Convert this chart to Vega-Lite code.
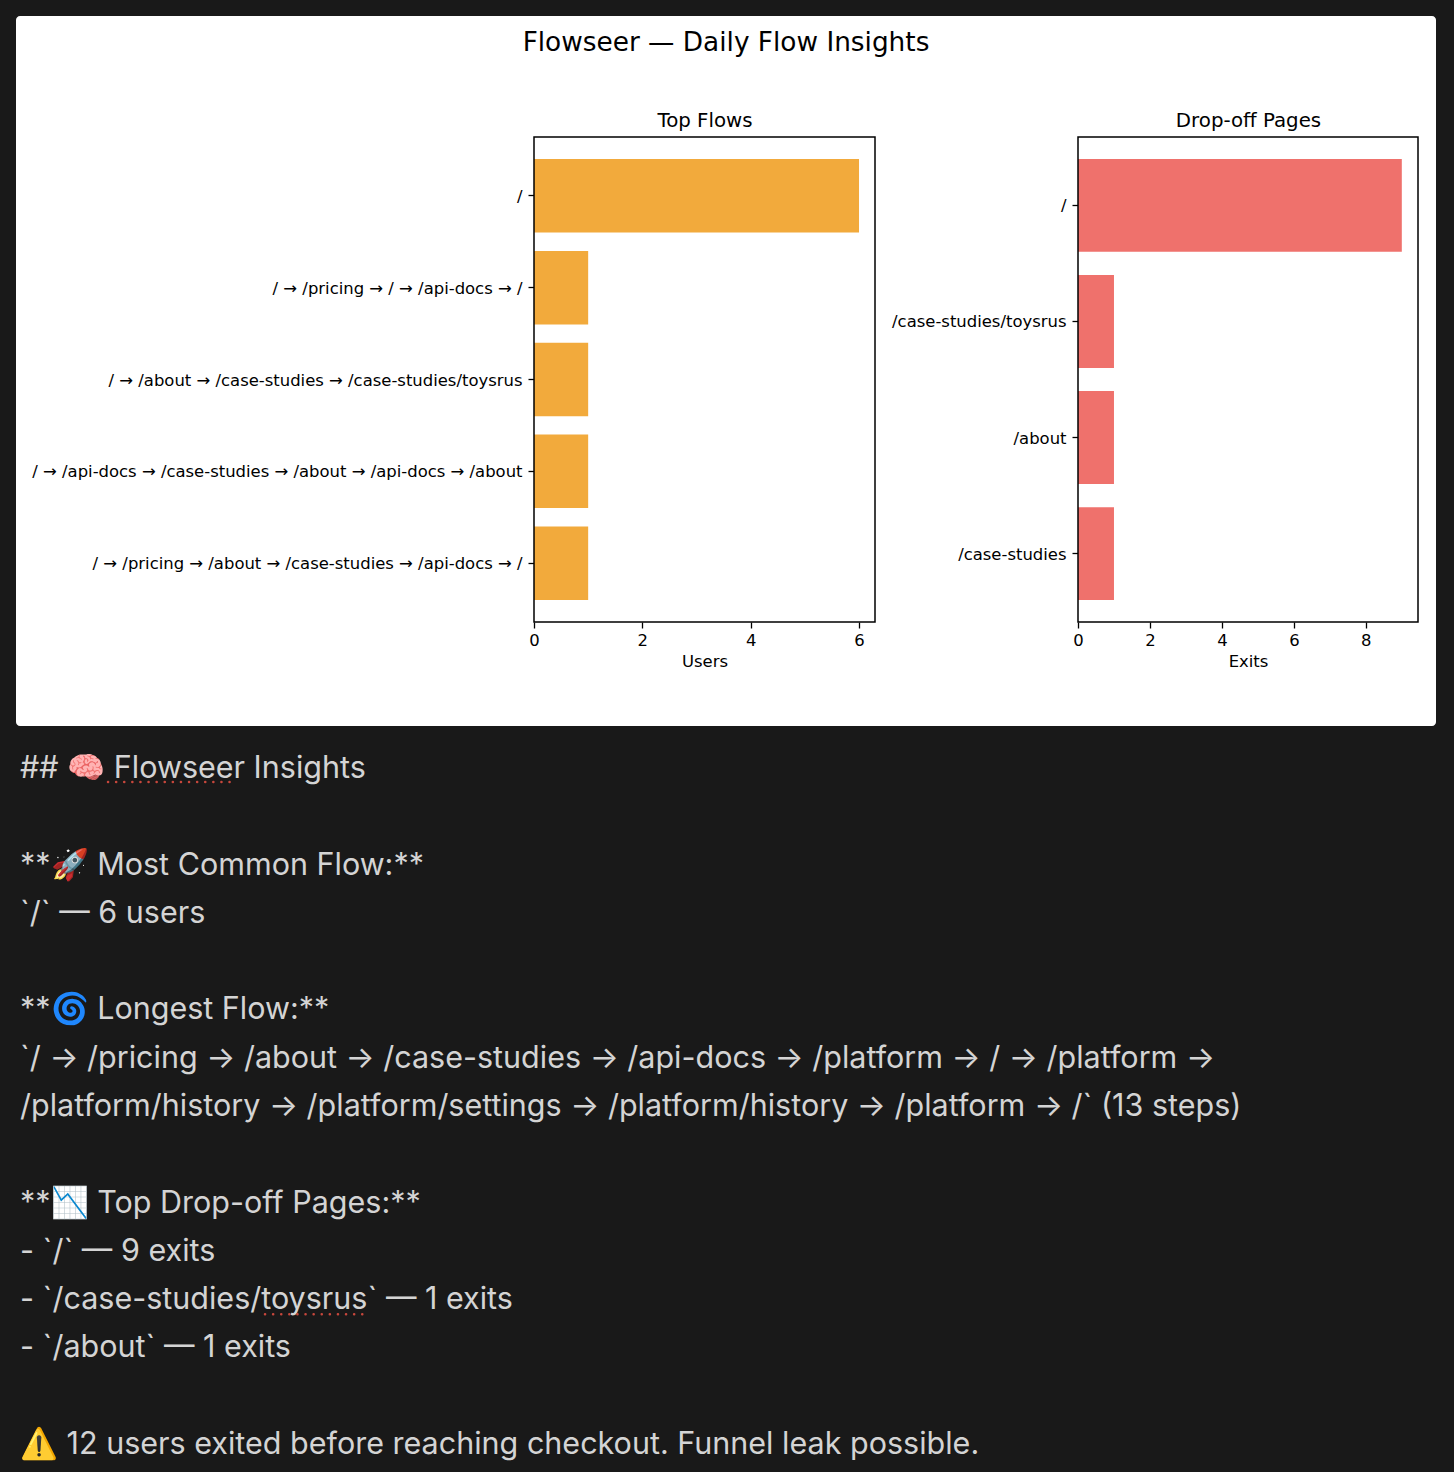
{
"$schema":"https://vega.github.io/schema/vega-lite/v6.json",
"background":"#191919",
"padding":{"left":16,"top":16,"right":18,"bottom":16},
"config":{"view":{"stroke":null},"axis":{"labelFont":"DejaVu Sans","titleFont":"DejaVu Sans","labelFontSize":16.45,"titleFontSize":16.45,"labelColor":"#000","titleColor":"#000","titleFontWeight":"normal","tickColor":"#000","domain":false,"grid":false,"tickSize":6,"tickWidth":1.3,"labelPadding":4,"labelLimit":700,"labelFlush":false,"labelOverlap":false,"titlePadding":5}},
"spacing":0,
"bounds":"flush",
"vconcat":[
{"width":1420,"height":710,"view":{"fill":"#ffffff","cornerRadius":4,"stroke":null},
 "resolve":{"scale":{"x":"independent","y":"independent"},"axis":{"x":"independent","y":"independent"}},
 "layer":[
 {"data":{"values":[{"t":"Flowseer — Daily Flow Insights"}]},
  "mark":{"type":"text","font":"DejaVu Sans","fontSize":26.35,"color":"#000","dy":-328},
  "encoding":{"text":{"field":"t"}}},
 {"data":{"values":[
   {"flow":"/","users":6},
   {"flow":"/ → /pricing → / → /api-docs → /","users":1},
   {"flow":"/ → /about → /case-studies → /case-studies/toysrus","users":1},
   {"flow":"/ → /api-docs → /case-studies → /about → /api-docs → /about","users":1},
   {"flow":"/ → /pricing → /about → /case-studies → /api-docs → /","users":1}]},
  "mark":{"type":"bar","color":"#f2aa3c"},
  "encoding":{
   "x":{"field":"users","type":"quantitative","title":"Users","scale":{"domain":[0,6.295],"nice":false,"range":[518,859]},"axis":{"orient":"bottom","offset":-104,"values":[0,2,4,6],"format":"d"}},
   "y":{"field":"flow","type":"nominal","sort":null,"title":null,"scale":{"paddingInner":0.2,"paddingOuter":0.24,"range":[121,606]},"axis":{"orient":"left","offset":-518,"labelPadding":6,"labelOffset":1}}}},
 {"data":{"values":[{"a":0,"b":6.295,"c":0,"d":1}]},
  "mark":{"type":"rect","fillOpacity":0,"stroke":"#000","strokeWidth":1.5},
  "encoding":{
   "x":{"field":"a","type":"quantitative","scale":{"domain":[0,6.295],"nice":false,"range":[518,859]},"axis":{"orient":"top","offset":-121,"title":"Top Flows","titleFontSize":19.8,"titlePadding":7,"ticks":false,"labels":false}},
   "x2":{"field":"b"},
   "y":{"field":"c","type":"quantitative","scale":{"domain":[0,1],"nice":false,"range":[606,121]},"axis":null},
   "y2":{"field":"d"}}},
 {"data":{"values":[
   {"page":"/","exits":9},
   {"page":"/case-studies/toysrus","exits":1},
   {"page":"/about","exits":1},
   {"page":"/case-studies","exits":1}]},
  "mark":{"type":"bar","color":"#ef716c"},
  "encoding":{
   "x":{"field":"exits","type":"quantitative","title":"Exits","scale":{"domain":[0,9.45],"nice":false,"range":[1062,1402]},"axis":{"orient":"bottom","offset":-104,"values":[0,2,4,6,8],"format":"d"}},
   "y":{"field":"page","type":"nominal","sort":null,"title":null,"scale":{"paddingInner":0.2,"paddingOuter":0.19,"range":[121,606]},"axis":{"orient":"left","offset":-1062,"labelPadding":6,"labelOffset":1}}}},
 {"data":{"values":[{"a":0,"b":9.45,"c":0,"d":1}]},
  "mark":{"type":"rect","fillOpacity":0,"stroke":"#000","strokeWidth":1.5},
  "encoding":{
   "x":{"field":"a","type":"quantitative","scale":{"domain":[0,9.45],"nice":false,"range":[1062,1402]},"axis":{"orient":"top","offset":-121,"title":"Drop-off Pages","titleFontSize":19.8,"titlePadding":7,"ticks":false,"labels":false}},
   "x2":{"field":"b"},
   "y":{"field":"c","type":"quantitative","scale":{"domain":[0,1],"nice":false,"range":[606,121]},"axis":null},
   "y2":{"field":"d"}}}
 ]},
{"width":1420,"height":730,
 "layer":[
  {"data":{"values":[
   {"line":0,"text":"## 🧠 Flowseer Insights"},
   {"line":2,"text":"**🚀 Most Common Flow:**"},
   {"line":3,"text":"`/` — 6 users"},
   {"line":5,"text":"**🌀 Longest Flow:**"},
   {"line":6,"text":"`/ → /pricing → /about → /case-studies → /api-docs → /platform → / → /platform →"},
   {"line":7,"text":"/platform/history → /platform/settings → /platform/history → /platform → /` (13 steps)"},
   {"line":9,"text":"**📉 Top Drop-off Pages:**"},
   {"line":10,"text":"- `/` — 9 exits"},
   {"line":11,"text":"- `/case-studies/toysrus` — 1 exits"},
   {"line":12,"text":"- `/about` — 1 exits"},
   {"line":14,"text":"⚠️ 12 users exited before reaching checkout. Funnel leak possible."}]},
   "mark":{"type":"text","font":"Inter","fontSize":30.5,"color":"#d4d4d4","align":"left","baseline":"middle"},
   "encoding":{
    "x":{"datum":4,"type":"quantitative","scale":{"domain":[0,1420],"nice":false},"axis":null},
    "y":{"field":"line","type":"quantitative","scale":{"domain":[0,14],"range":[43,719]},"axis":null},
    "text":{"field":"text"}}},
  {"data":{"values":[{"line":0.27,"a":92,"b":221},{"line":11.29,"a":249,"b":354}]},
   "mark":{"type":"rule","color":"#c8473c","strokeWidth":2.5,"strokeDash":[0.1,8],"strokeCap":"round"},
   "encoding":{
    "x":{"field":"a","type":"quantitative"},
    "x2":{"field":"b"},
    "y":{"field":"line","type":"quantitative"}}}
 ]}
]}
